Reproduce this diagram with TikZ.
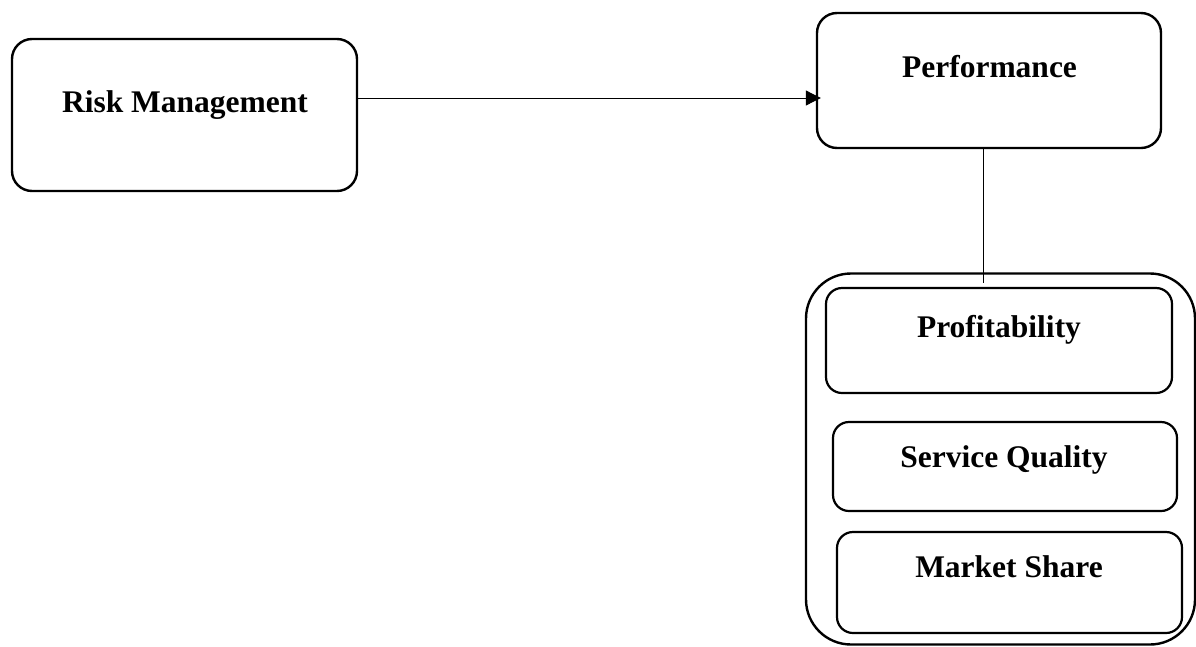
\documentclass[tikz,border=0pt]{standalone}
\usepackage{fontspec}
\setmainfont{Liberation Serif}
\usetikzlibrary{arrows.meta}
\begin{document}
\begin{tikzpicture}[x=1pt,y=-1pt,
  box/.style={draw, line width=2.4pt, rounded corners=20pt, inner sep=0pt},
  inbox/.style={draw, line width=2.2pt, rounded corners=16pt, inner sep=0pt},
  lbl/.style={font=\fontsize{31.5}{36}\selectfont\bfseries, inner sep=0pt, anchor=base},
  conn/.style={line width=1pt}]
\useasboundingbox[fill=white] (0,0) rectangle (1196,646);
% boxes
\node[box, minimum width=345pt, minimum height=152pt] (rm) at (184.5,115) {};
\node[box, minimum width=344pt, minimum height=135pt] (perf) at (989,80.5) {};
\node[draw, line width=2.4pt, rounded corners=45pt, inner sep=0pt, minimum width=389pt, minimum height=371pt] (outer) at (1000.5,459) {};
\node[inbox, minimum width=346pt, minimum height=105pt] (prof) at (999,340.5) {};
\node[inbox, minimum width=344pt, minimum height=89pt] (sq) at (1005,466.5) {};
\node[inbox, minimum width=345pt, minimum height=101pt] (ms) at (1009.5,582.5) {};
% texts
\node[lbl] (rmT) at (185,112) {Risk Management};
\node[lbl] (perfT) at (989.5,77) {Performance};
\node[lbl] (profT) at (999,337) {Profitability};
\node[lbl] (sqT) at (1004,467) {Service Quality};
\node[lbl] (msT) at (1009,577) {Market Share};
% connectors
\coordinate (ay) at (0,98);
\draw[conn, -{Triangle[length=15pt,width=15pt]}] (rm.east |- ay) -- ([xshift=5pt]perf.west |- ay);
\coordinate (vx) at (983,283);
\draw[conn] (perf.south -| vx) -- (vx);
\end{tikzpicture}
\end{document}
